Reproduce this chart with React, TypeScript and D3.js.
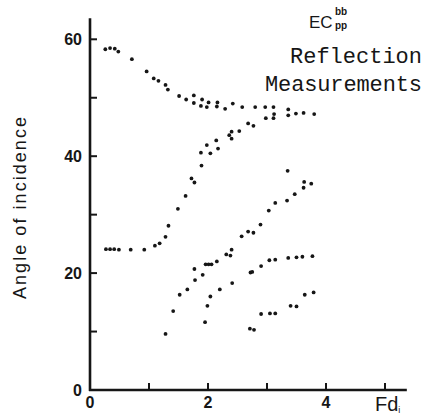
import React from "react";
import * as d3 from "d3";

// --- Data (Fd_i, angle in degrees) ---
const UPPER_X = [0.26, 0.34, 0.42, 0.48, 0.71, 0.96, 1.08, 1.16, 1.28, 1.32, 1.51, 1.63, 1.76, 1.76, 1.88, 1.9, 1.98, 2.01, 2.15, 2.16, 2.29, 2.42, 2.58, 2.8, 2.97, 3.11, 3.36, 3.36, 3.49, 3.62, 3.8];
const UPPER_Y = [58.3, 58.5, 58.4, 57.9, 56.6, 54.5, 53.3, 52.9, 52.2, 51.4, 50.3, 49.7, 50.4, 49.1, 48.6, 49.7, 48.4, 49.2, 48.5, 49.2, 48.1, 49.0, 48.4, 48.4, 48.4, 48.4, 48.0, 47.0, 47.3, 47.4, 47.2];

const SECOND_X = [0.27, 0.34, 0.41, 0.49, 0.69, 0.92, 1.1, 1.18, 1.28, 1.33, 1.49, 1.62, 1.72, 1.77, 1.89, 1.88, 1.98, 2.04, 2.14, 2.17, 2.36, 2.4, 2.4, 2.53, 2.68, 2.77, 2.98, 3.11, 3.12];
const SECOND_Y = [24.1, 24.1, 24.1, 24.0, 24.0, 24.0, 24.7, 25.1, 26.2, 28.1, 31.0, 33.2, 36.2, 35.5, 38.4, 40.6, 41.9, 40.5, 42.7, 41.3, 43.6, 43.0, 44.2, 44.3, 45.6, 45.2, 46.5, 46.5, 47.2];

const THIRD_X = [1.28, 1.41, 1.52, 1.65, 1.78, 1.91, 1.77, 1.96, 2.01, 2.06, 2.15, 2.31, 2.38, 2.4, 2.57, 2.68, 2.77, 2.89, 3.03, 3.14, 3.34, 3.47, 3.62, 3.63, 3.75, 3.35];
const THIRD_Y = [9.6, 13.5, 16.3, 17.2, 18.8, 19.7, 20.7, 21.5, 21.5, 21.5, 22.0, 23.2, 23.0, 24.0, 26.3, 27.1, 26.9, 28.3, 30.7, 32.0, 32.4, 33.5, 34.6, 35.6, 35.3, 37.5];

const FOURTH_X = [1.95, 1.99, 2.04, 2.2, 2.41, 2.72, 2.75, 2.9, 3.04, 3.14, 3.36, 3.5, 3.6, 3.77];
const FOURTH_Y = [11.6, 14.4, 16.0, 17.2, 18.3, 20.1, 20.2, 21.2, 22.2, 22.3, 22.6, 22.7, 22.8, 22.9];

const FIFTH_X = [2.71, 2.78, 2.9, 3.05, 3.14, 3.4, 3.5, 3.64, 3.79];
const FIFTH_Y = [10.5, 10.3, 13.0, 13.1, 13.1, 14.4, 14.3, 16.3, 16.7];

const X_TICKS = [1, 2, 3, 4, 5];
const X_LABELS = [0, 2, 4];
const Y_TICKS = [10, 20, 30, 40, 50, 60];
const Y_LABELS = [0, 20, 40, 60];

const W = 434;
const H = 415;

export default function App() {
  const x = d3.scaleLinear().domain([0, 1]).range([90, 149]);
  const y = d3.scaleLinear().domain([0, 10]).range([390, 331.55]);

  const series = [
    [UPPER_X, UPPER_Y],
    [SECOND_X, SECOND_Y],
    [THIRD_X, THIRD_Y],
    [FOURTH_X, FOURTH_Y],
    [FIFTH_X, FIFTH_Y],
  ];

  const ink = "#161616";
  const sans = "'Liberation Sans', Arial, sans-serif";

  return (
    <div style={{ position: "absolute", left: 0, top: 0 }}>
      <svg width={W} height={H} style={{ display: "block", background: "#fff" }}>
        {/* axes */}
        <line x1={x(0)} y1={y(63.6)} x2={x(0)} y2={y(0) + 1} stroke={ink} strokeWidth={2.6} />
        <line x1={x(0) - 1} y1={y(0)} x2={x(5.37)} y2={y(0)} stroke={ink} strokeWidth={2.6} />

        {Y_TICKS.map((t) => (
          <line key={"yt" + t} x1={x(0)} x2={x(0) + 7} y1={y(t)} y2={y(t)} stroke={ink} strokeWidth={2} />
        ))}
        {X_TICKS.map((t) => (
          <line key={"xt" + t} x1={x(t)} x2={x(t)} y1={y(0)} y2={y(0) - 7} stroke={ink} strokeWidth={2} />
        ))}

        {Y_LABELS.map((t) => (
          <text key={"yl" + t} x={x(0) - 8} y={y(t) + 6} textAnchor="end" fontFamily={sans} fontWeight="bold" fontSize={16} fill={ink}>
            {t}
          </text>
        ))}
        {X_LABELS.map((t) => (
          <text key={"xl" + t} x={x(t)} y={408} textAnchor="middle" fontFamily={sans} fontWeight="bold" fontSize={16} fill={ink}>
            {t}
          </text>
        ))}

        {/* axis titles */}
        <text
          transform={`translate(26, 208) rotate(-90)`}
          textAnchor="middle"
          fontFamily={sans}
          fontSize={18}
          textLength={182}
          lengthAdjust="spacing"
          fill={ink}
        >
          Angle of incidence
        </text>
        <text x={375} y={411} fontFamily={sans} fontSize={20} fill={ink}>
          Fd
          <tspan fontSize={9} dy={2}>i</tspan>
        </text>

        {/* title block */}
        <text x={309} y={28} fontFamily={sans} fontSize={17} fill={ink}>
          EC
        </text>
        <text x={335} y={15} fontFamily={sans} fontWeight="bold" fontSize={10} fill={ink}>
          bb
        </text>
        <text x={335} y={29} fontFamily={sans} fontWeight="bold" fontSize={10} fill={ink}>
          pp
        </text>
        <text x={290} y={63} fontFamily="'Liberation Mono', monospace" fontSize={22} textLength={132} lengthAdjust="spacing" fill={ink}>
          Reflection
        </text>
        <text x={265} y={91} fontFamily="'Liberation Mono', monospace" fontSize={22} textLength={157} lengthAdjust="spacing" fill={ink}>
          Measurements
        </text>

        {/* data */}
        {series.map(([xs, ys], si) =>
          xs.map((v, i) => (
            <circle key={si + "-" + i} cx={x(v)} cy={y(ys[i])} r={1.9} fill={ink} />
          ))
        )}
      </svg>
    </div>
  );
}
